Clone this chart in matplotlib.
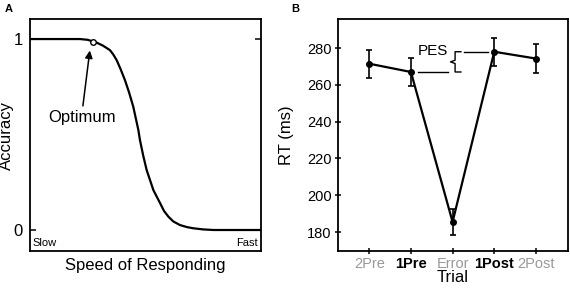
"""
Speed-accuracy tradeoff (A) and post-error slowing (B).
"""

import matplotlib
matplotlib.use("Agg")
import matplotlib.pyplot as plt

plt.rcParams["font.family"] = ["Liberation Sans", "DejaVu Sans"]

# -------------------------
# Data
# -------------------------
# Panel A: accuracy curve sampled from the figure (speed 0..1)
speed = [0.0, 0.216, 0.250, 0.273, 0.289, 0.315, 0.346, 0.360, 0.375,
         0.393, 0.411, 0.429, 0.447, 0.469, 0.476, 0.490, 0.505, 0.520,
         0.534, 0.563, 0.580, 0.599, 0.620, 0.649, 0.680, 0.707, 0.750,
         0.794, 1.0]
accuracy = [1.0, 1.0, 0.996, 0.987, 0.981, 0.966, 0.942, 0.920, 0.890,
            0.840, 0.785, 0.720, 0.646, 0.524, 0.471, 0.390, 0.314, 0.260,
            0.209, 0.141, 0.100, 0.070, 0.045, 0.026, 0.015, 0.009, 0.003,
            0.0, 0.0]
optimum = (0.273, 0.987)

# Panel B: RT around errors
trials = ["2Pre", "1Pre", "Error", "1Post", "2Post"]
rt = [271.5, 267.0, 185.5, 278.0, 274.3]
rt_err = [7.7, 7.8, 7.0, 7.7, 8.0]
label_colors = ["#999999", "black", "#999999", "black", "#999999"]
label_weights = ["normal", "bold", "normal", "bold", "normal"]

fig = plt.figure(figsize=(5.7, 2.89), dpi=100)

# -------------------------
# Panel A
# -------------------------
ax = fig.add_axes([30 / 570, 38 / 289, 231 / 570, 232 / 289])
ax.plot(speed, accuracy, color="black", lw=1.6, zorder=2)
ax.plot(*optimum, "o", ms=4, mfc="white", mec="black", mew=1.0, zorder=3)
ax.annotate("", xy=(0.259, 0.94), xytext=(0.229, 0.65),
            arrowprops=dict(arrowstyle="-|>", color="black", lw=1.1,
                            mutation_scale=11, shrinkA=0, shrinkB=0))
ax.text(0.227, 0.59, "Optimum", ha="center", va="center", fontsize=12)
ax.text(0.012, -0.068, "Slow", ha="left", va="center", fontsize=8)
ax.text(0.988, -0.068, "Fast", ha="right", va="center", fontsize=8)
ax.set_xlim(0, 1)
ax.set_ylim(-0.11, 1.105)
ax.set_xticks([])
ax.set_yticks([0, 1])
ax.set_yticklabels(["0", "1"])
ax.tick_params(axis="y", direction="in", length=4, width=1.1, right=True,
               labelsize=12, pad=5)
for s in ax.spines.values():
    s.set_linewidth(1.3)
ax.set_xlabel("Speed of Responding", fontsize=12, labelpad=5)
ax.set_ylabel("Accuracy", fontsize=12)
ax.yaxis.set_label_coords(-0.068, 0.5)
fig.text(5 / 570, 1 - 9 / 289, "A", fontsize=8, fontweight="bold",
         ha="left", va="center")

# -------------------------
# Panel B
# -------------------------
bx = fig.add_axes([338 / 570, 38 / 289, 230 / 570, 232 / 289])
x = list(range(len(trials)))
bx.errorbar(x, rt, yerr=rt_err, color="black", lw=1.6, marker="o", ms=4,
            elinewidth=1.2, capsize=2, capthick=1.2, zorder=3)

# PES bracket between 1Pre and 1Post
y_lo, y_hi = rt[1], rt[3]
mid = (y_lo + y_hi) / 2
bx.plot([1.17, 1.90], [y_lo, y_lo], color="black", lw=1.0)
bx.plot([2.28, 2.86], [y_hi, y_hi], color="black", lw=1.0)
bx.plot([2.20, 2.06, 2.06, 1.95, 2.06, 2.06, 2.20],
        [y_hi, y_hi, mid + 0.9, mid, mid - 0.9, y_lo, y_lo],
        color="black", lw=1.0)
bx.text(1.90, y_hi + 0.3, "PES", ha="right", va="center", fontsize=11)

bx.set_xlim(-0.75, 4.77)
bx.set_ylim(169.7, 295.8)
bx.set_xticks(x)
bx.set_xticklabels(trials)
for lab, c, w in zip(bx.get_xticklabels(), label_colors, label_weights):
    lab.set_color(c)
    lab.set_fontweight(w)
bx.set_yticks([180, 200, 220, 240, 260, 280])
bx.tick_params(direction="inout", length=5, width=1.1, labelsize=10.5, pad=2)
for s in bx.spines.values():
    s.set_linewidth(1.3)
bx.set_xlabel("Trial", fontsize=12, labelpad=-1)
bx.set_ylabel("RT (ms)", fontsize=12)
bx.yaxis.set_label_coords(-0.19, 0.5)
fig.text(291 / 570, 1 - 9 / 289, "B", fontsize=8, fontweight="bold",
         ha="left", va="center")

fig.savefig("out.png", dpi=100)
